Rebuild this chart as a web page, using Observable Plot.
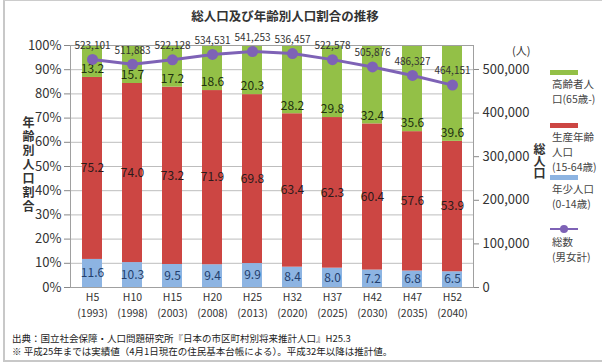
<!DOCTYPE html>
<html><head><meta charset="utf-8">
<script src="https://cdn.jsdelivr.net/npm/d3@7"></script>
<script src="https://cdn.jsdelivr.net/npm/@observablehq/plot@0.6"></script>
<style>
body{margin:0;background:#fff;font-family:"Noto Sans CJK JP","Noto Sans",sans-serif;}
#wrap{position:relative;width:602px;height:363px;overflow:hidden;}
.abs{position:absolute;color:#333;white-space:nowrap;}
.vert{writing-mode:vertical-rl;text-orientation:upright;}
.sw{position:absolute;height:5px;width:28px;}
.lg{position:absolute;font-size:10.5px;color:#444;line-height:15px;}
</style></head>
<body>
<div id="wrap">
  <div class="abs" style="left:3px;top:0;width:599px;height:359px;border-left:2px solid #c8c8c8;border-top:1px solid #ccc;border-bottom:2px solid #c8c8c8;"></div>
  <div id="chart" style="position:absolute;left:0;top:0;"></div>
  <div class="abs" style="left:0;width:570px;top:6px;text-align:center;font-size:12.5px;font-weight:bold;">総人口及び年齢別人口割合の推移</div>
  <div class="abs vert" style="left:20px;top:116px;font-size:12px;font-weight:bold;letter-spacing:2px;">年齢別人口割合</div>
  <div class="abs vert" style="left:531px;top:143px;font-size:12px;font-weight:bold;">総人口</div>
  <div class="abs" style="left:512px;top:43px;font-size:11px;line-height:14px;">(人)</div>
  <div id="legend"></div>
  <div class="abs" style="left:12px;top:332px;font-size:9.5px;line-height:12.5px;color:#222;">出典：国立社会保障・人口問題研究所『日本の市区町村別将来推計人口』H25.3<br>※ 平成25年までは実績値（4月1日現在の住民基本台帳による）。平成32年以降は推計値。</div>
</div>
<script>
const eras = ["H5","H10","H15","H20","H25","H32","H37","H42","H47","H52"];
const years = ["1993","1998","2003","2008","2013","2020","2025","2030","2035","2040"];
const young = [11.6,10.3,9.5,9.4,9.9,8.4,8.0,7.2,6.8,6.5];
const working = [75.2,74.0,73.2,71.9,69.8,63.4,62.3,60.4,57.6,53.9];
const elderly = [13.2,15.7,17.2,18.6,20.3,28.2,29.8,32.4,35.6,39.6];
const totals = [523101,511883,522128,534531,541253,536457,522578,505876,486327,464151];
const pctTicks = [0,0.1,0.2,0.3,0.4,0.5,0.6,0.7,0.8,0.9,1];
const popTicks = [0,100000,200000,300000,400000,500000];
const groups = ["young","working","elderly"];
const colors = ["#8db4e2","#cc4643","#93c047"];
const purple = "#7e62b6";
const popMax = 555000;

const yearOf = new Map(eras.map((e,i)=>[e, years[i]]));
const rows = eras.flatMap((c,i)=>[
  {cat:c, group:"young", value:young[i]},
  {cat:c, group:"working", value:working[i]},
  {cat:c, group:"elderly", value:elderly[i]}
]);
const totRows = eras.map((c,i)=>({cat:c, total:totals[i]}));
const stackOpts = {x:"cat", y:"value", z:"group", order:groups, offset:"normalize"};

const chart = Plot.plot({
  width:602, height:363,
  marginLeft:70, marginRight:129, marginTop:45, marginBottom:76,
  x:{domain:eras, paddingInner:0.5, paddingOuter:0.25, label:null},
  y:{domain:[0,1], label:null},
  color:{domain:groups, range:colors},
  style:{fontFamily:'"Noto Sans CJK JP","Noto Sans",sans-serif', fontSize:"12px", color:"#333", background:"transparent"},
  marks:[
    Plot.gridY({ticks:pctTicks, stroke:"#bdbdbd", strokeOpacity:1}),
    Plot.barY(rows, Plot.stackY({...stackOpts, fill:"group"})),
    Plot.text(rows, Plot.stackY({...stackOpts, text:d=>d.group==="young"?d.value.toFixed(1):"", fill:"#233f6e", fontSize:12})),
    Plot.text(rows, Plot.stackY({...stackOpts, text:d=>d.group==="working"?d.value.toFixed(1):"", fill:"#2a1a1a", fontSize:12})),
    Plot.text(rows, Plot.stackY1({...stackOpts, text:d=>d.group==="elderly"?d.value.toFixed(1):"", fill:"#203010", fontSize:12, dy:-8})),
    Plot.frame({stroke:"#a0a0a0"}),
    Plot.axisY({ticks:pctTicks, tickFormat:d3.format(".0%"), fontSize:13, fill:"#333", stroke:"#888", tickSize:6, label:null}),
    Plot.axisY({anchor:"right", ticks:popTicks.map(v=>v/popMax), tickFormat:v=>d3.format(",")(Math.round(v*popMax)), fontSize:13, fill:"#333", stroke:"#888", tickSize:5, label:null}),
    Plot.axisX({tickSize:0, tickPadding:6, fontSize:10.5, fill:"#333", label:null}),
    Plot.axisX({tickSize:0, tickPadding:22, fontSize:10.5, fill:"#333", label:null, tickFormat:d=>`(${yearOf.get(d)})`}),
    Plot.line(totRows, {x:"cat", y:d=>d.total/popMax, stroke:purple, strokeWidth:3}),
    Plot.dot(totRows, {x:"cat", y:d=>d.total/popMax, r:5.5, fill:purple}),
    Plot.text(totRows, {x:"cat", y:d=>d.total/popMax, text:d=>d3.format(",")(d.total), dy:-14, fontSize:10, fill:"#333"})
  ]
});
document.getElementById("chart").appendChild(chart);

const legendItems = [
  {color:colors[2], top:70, lines:["高齢者人","口(65歳-)"]},
  {color:colors[1], top:123, lines:["生産年齢","人口","(15-64歳)"]},
  {color:colors[0], top:175, lines:["年少人口","(0-14歳)"]},
  {color:purple, top:228, lines:["総数","(男女計)"], line:true}
];
const lg = document.getElementById("legend");
legendItems.forEach(it=>{
  if(it.line){
    lg.insertAdjacentHTML("beforeend",`<div class="sw" style="left:550px;top:${it.top}px;height:2px;background:${it.color}"></div><div style="position:absolute;left:560px;top:${it.top-3}px;width:8px;height:8px;border-radius:50%;background:${it.color}"></div>`);
  } else {
    lg.insertAdjacentHTML("beforeend",`<div class="sw" style="left:550px;top:${it.top}px;background:${it.color}"></div>`);
  }
  lg.insertAdjacentHTML("beforeend",`<div class="lg" style="left:552px;top:${it.top+6}px">${it.lines.join("<br>")}</div>`);
});
</script>
</body></html>
